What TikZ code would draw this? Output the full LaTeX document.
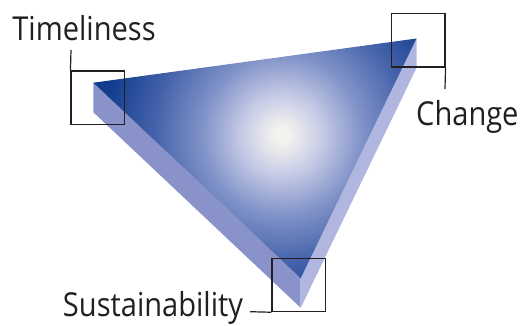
\documentclass[tikz,border=0pt]{standalone}
\usepackage{fontspec}
\setmainfont{Open Sans}[FakeStretch=0.88]
\definecolor{gA}{HTML}{F4F2EE}
\definecolor{gB}{HTML}{C6CBE6}
\definecolor{gC}{HTML}{8092C8}
\definecolor{gD}{HTML}{4462AA}
\definecolor{gE}{HTML}{143F8F}
\definecolor{gF}{HTML}{0C388A}
\definecolor{sideL}{HTML}{8A93C9}
\definecolor{sideR}{HTML}{B0B6DF}
\definecolor{ink}{HTML}{231F20}
\pgfdeclareradialshading{glow}{\pgfpoint{0bp}{0bp}}{color(0bp)=(gA); color(1bp)=(gA); color(5bp)=(gB); color(10bp)=(gC); color(16bp)=(gD); color(22bp)=(gE); color(25bp)=(gF); color(50bp)=(gF)}
\begin{document}
\begin{tikzpicture}[x=1pt,y=-1pt,
  cornerbox/.style={draw=ink, line width=1.2pt, minimum width=53.3pt, minimum height=53.3pt, inner sep=0pt},
  lbl/.style={inner sep=0pt, text=ink, font=\fontsize{33}{36}\selectfont},
  conn/.style={draw=ink, line width=1.2pt}]
\useasboundingbox (0,0) rectangle (523,325);
% triangle vertices
\coordinate (L) at (93.3,82.7);
\coordinate (R) at (416.5,38.5);
\coordinate (B) at (300.7,278.3);
\coordinate (Ld) at (93.3,112.2);
\coordinate (Rd) at (416.5,68);
\coordinate (Bd) at (300.7,307.8);
% side faces
\fill[sideL] (L) -- (B) -- (Bd) -- (Ld) -- cycle;
\fill[sideR] (B) -- (R) -- (Rd) -- (Bd) -- cycle;
% top face with glow
\begin{scope}
  \clip (L) -- (R) -- (B) -- cycle;
  \shade[shading=glow] (281.7,135) circle (200);
\end{scope}
% corner boxes
\node[cornerbox] (tbox) at (97.7,97.7) {};
\node[cornerbox] (cbox) at (418.3,40.3) {};
\node[cornerbox] (sbox) at (298.7,285) {};
% labels
\node[lbl, anchor=base west] (tim) at (12.2,40) {Timeliness};
\node[lbl, anchor=base west] (chg) at (416,125.7) {Change};
\node[lbl, anchor=base west] (sus) at (62.8,316.7) {Sustainability};
% connector ends
\coordinate (tend) at (71,50);
\coordinate (cend) at (445,89);
\coordinate (send) at (250,311.7);
\draw[conn] (tbox.north west) -- (tend);
\draw[conn] (cbox.south east) -- (cend);
\draw[conn] (sbox.south west) -- (send);
\end{tikzpicture}
\end{document}
